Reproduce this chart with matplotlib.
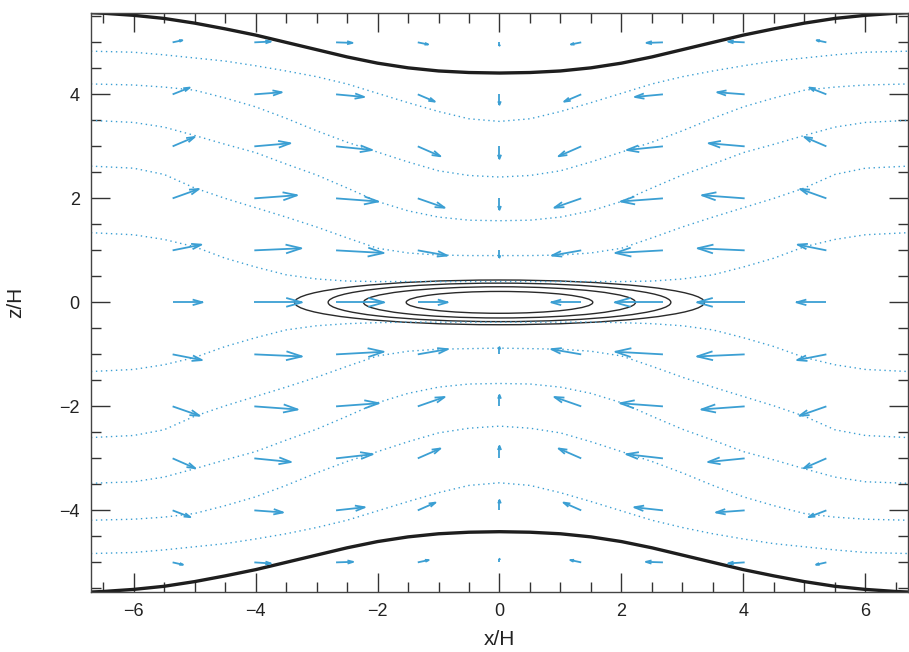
import numpy as np
import matplotlib
matplotlib.use("Agg")
import matplotlib.pyplot as plt
from matplotlib.collections import LineCollection
from matplotlib.patches import Ellipse

plt.rcParams['font.family'] = ['Liberation Sans', 'DejaVu Sans']

blue = '#3b9fd3'

# quiver grid (arrow tails)
x_grid = [-5.36, -4.02, -2.68, -1.34, 0.0, 1.34, 2.68, 4.02, 5.36]
z_grid = [5, 4, 3, 2, 1, 0, -1, -2, -3, -4, -5]

# horizontal velocity, rows follow z_grid (top to bottom)
U = [
    [0.16, 0.27, 0.27, 0.17, 0.0, -0.17, -0.27, -0.27, -0.16],
    [0.28, 0.45, 0.46, 0.28, 0.0, -0.28, -0.46, -0.45, -0.28],
    [0.36, 0.59, 0.59, 0.37, 0.0, -0.37, -0.59, -0.59, -0.36],
    [0.43, 0.70, 0.69, 0.44, 0.0, -0.44, -0.69, -0.70, -0.43],
    [0.47, 0.77, 0.78, 0.48, 0.0, -0.48, -0.78, -0.77, -0.47],
    [0.49, 0.78, 0.79, 0.49, 0.0, -0.49, -0.79, -0.78, -0.49],
    [0.48, 0.78, 0.78, 0.49, 0.0, -0.49, -0.78, -0.78, -0.48],
    [0.44, 0.71, 0.70, 0.44, 0.0, -0.44, -0.70, -0.71, -0.44],
    [0.37, 0.60, 0.60, 0.37, 0.0, -0.37, -0.60, -0.60, -0.37],
    [0.29, 0.47, 0.47, 0.29, 0.0, -0.29, -0.47, -0.47, -0.29],
    [0.17, 0.27, 0.28, 0.18, 0.0, -0.18, -0.28, -0.27, -0.17],
]
# vertical velocity
W = [
    [0.04, 0.015, -0.01, -0.04, -0.065, -0.04, -0.01, 0.015, 0.04],
    [0.13, 0.04, -0.05, -0.14, -0.20, -0.14, -0.05, 0.04, 0.13],
    [0.18, 0.06, -0.07, -0.19, -0.24, -0.19, -0.07, 0.06, 0.18],
    [0.18, 0.06, -0.06, -0.18, -0.22, -0.18, -0.06, 0.06, 0.18],
    [0.11, 0.04, -0.05, -0.10, -0.14, -0.10, -0.05, 0.04, 0.11],
    [0.0, 0.0, 0.0, 0.0, 0.0, 0.0, 0.0, 0.0, 0.0],
    [-0.11, -0.04, 0.05, 0.10, 0.14, 0.10, 0.05, -0.04, -0.11],
    [-0.18, -0.06, 0.06, 0.18, 0.22, 0.18, 0.06, -0.06, -0.18],
    [-0.19, -0.07, 0.08, 0.19, 0.24, 0.19, 0.08, -0.07, -0.19],
    [-0.13, -0.04, 0.06, 0.15, 0.20, 0.15, 0.06, -0.04, -0.13],
    [-0.045, -0.02, 0.01, 0.045, 0.07, 0.045, 0.01, -0.02, -0.045],
]

# dotted flow lines
x_line = [-6.7, -6.0, -5.5, -5.0, -4.5, -4.0, -3.5, -3.0, -2.5, -2.0, -1.5, -1.0, -0.5, 0.0,
          0.5, 1.0, 1.5, 2.0, 2.5, 3.0, 3.5, 4.0, 4.5, 5.0, 5.5, 6.0, 6.7]
line_1 = [4.83, 4.81, 4.76, 4.70, 4.64, 4.55, 4.45, 4.34, 4.20, 4.02, 3.84, 3.67, 3.53, 3.48,
          3.53, 3.67, 3.84, 4.02, 4.20, 4.34, 4.45, 4.55, 4.64, 4.70, 4.76, 4.81, 4.83]
line_2 = [4.20, 4.18, 4.14, 4.08, 3.93, 3.76, 3.54, 3.30, 3.08, 2.89, 2.70, 2.53, 2.44, 2.41,
          2.44, 2.53, 2.70, 2.89, 3.08, 3.30, 3.54, 3.76, 3.93, 4.08, 4.14, 4.18, 4.20]
line_3 = [3.50, 3.46, 3.37, 3.21, 3.04, 2.88, 2.66, 2.45, 2.20, 1.94, 1.76, 1.64, 1.58, 1.57,
          1.58, 1.64, 1.76, 1.94, 2.20, 2.45, 2.66, 2.88, 3.04, 3.21, 3.37, 3.46, 3.50]
line_4 = [2.62, 2.58, 2.46, 2.20, 2.00, 1.82, 1.64, 1.45, 1.24, 1.04, 0.95, 0.91, 0.90, 0.90,
          0.90, 0.91, 0.95, 1.04, 1.24, 1.45, 1.64, 1.82, 2.00, 2.20, 2.46, 2.58, 2.62]
line_5 = [1.34, 1.30, 1.21, 1.07, 0.85, 0.68, 0.53, 0.45, 0.41, 0.40, 0.40, 0.40, 0.40, 0.40,
          0.40, 0.40, 0.40, 0.40, 0.41, 0.45, 0.53, 0.68, 0.85, 1.07, 1.21, 1.30, 1.34]
line_6 = [-1.33, -1.29, -1.20, -1.06, -0.85, -0.68, -0.53, -0.45, -0.41, -0.39, -0.38, -0.38, -0.38, -0.38,
          -0.38, -0.38, -0.38, -0.39, -0.41, -0.45, -0.53, -0.68, -0.85, -1.06, -1.20, -1.29, -1.33]
line_7 = [-2.60, -2.56, -2.45, -2.19, -1.99, -1.81, -1.63, -1.44, -1.23, -1.03, -0.94, -0.90, -0.89, -0.88,
          -0.89, -0.90, -0.94, -1.03, -1.23, -1.44, -1.63, -1.81, -1.99, -2.19, -2.45, -2.56, -2.60]
line_8 = [-3.48, -3.45, -3.36, -3.20, -3.03, -2.87, -2.65, -2.44, -2.19, -1.93, -1.75, -1.63, -1.57, -1.56,
          -1.57, -1.63, -1.75, -1.93, -2.19, -2.44, -2.65, -2.87, -3.03, -3.20, -3.36, -3.45, -3.48]
line_9 = [-4.19, -4.17, -4.13, -4.06, -3.91, -3.74, -3.52, -3.28, -3.06, -2.87, -2.68, -2.51, -2.42, -2.38,
          -2.42, -2.51, -2.68, -2.87, -3.06, -3.28, -3.52, -3.74, -3.91, -4.06, -4.13, -4.17, -4.19]
line_10 = [-4.83, -4.81, -4.76, -4.70, -4.64, -4.55, -4.45, -4.33, -4.19, -4.01, -3.83, -3.66, -3.52, -3.47,
           -3.52, -3.66, -3.83, -4.01, -4.19, -4.33, -4.45, -4.55, -4.64, -4.70, -4.76, -4.81, -4.83]
flow_lines = [line_1, line_2, line_3, line_4, line_5, line_6, line_7, line_8, line_9, line_10]

# upper / lower boundary
x_wall = [-6.7, -6.5, -6.0, -5.5, -5.0, -4.5, -4.0, -3.5, -3.0, -2.5, -2.0, -1.5, -1.0, -0.5, 0.0,
          0.5, 1.0, 1.5, 2.0, 2.5, 3.0, 3.5, 4.0, 4.5, 5.0, 5.5, 6.0, 6.5, 6.7]
z_wall = [5.57, 5.56, 5.52, 5.46, 5.37, 5.26, 5.14, 5.00, 4.86, 4.72, 4.60, 4.51, 4.45, 4.42, 4.41,
          4.42, 4.45, 4.51, 4.60, 4.72, 4.86, 5.00, 5.14, 5.26, 5.37, 5.46, 5.52, 5.56, 5.57]

# central contours (semi-axes)
ell_a = [3.36, 2.81, 2.23, 1.53]
ell_b = [0.43, 0.37, 0.30, 0.21]

fig = plt.figure(figsize=(9.09, 6.52), dpi=100)
ax = fig.add_axes([0.100, 0.092, 0.899, 0.8885])

for zl in flow_lines:
    ax.plot(x_line, zl, color=blue, lw=1.0, linestyle=(0, (1, 2.6)))

ax.plot(x_wall, z_wall, color='#1e1e1e', lw=2.4, solid_capstyle='butt')
ax.plot(x_wall, [-z for z in z_wall], color='#1e1e1e', lw=2.4, solid_capstyle='butt')

for a, b in zip(ell_a, ell_b):
    ax.add_patch(Ellipse((0, 0), 2 * a, 2 * b, fill=False, ec='#2a2a2a', lw=1.0))

# arrows drawn like matlab quiver (open heads)
X, Z = np.meshgrid(x_grid, z_grid)
Uq = np.array(U)
Wq = np.array(W)
alpha, beta = 0.33, 0.33
segs = []
for x0, z0, u, w in zip(X.ravel(), Z.ravel(), Uq.ravel(), Wq.ravel()):
    if u == 0 and w == 0:
        continue
    tx, tz = x0 + u, z0 + w
    segs.append([(x0, z0), (tx, tz)])
    segs.append([(tx - alpha * (u + beta * w), tz - alpha * (w - beta * u)), (tx, tz),
                 (tx - alpha * (u - beta * w), tz - alpha * (w + beta * u))])
ax.add_collection(LineCollection(segs, colors=blue, linewidths=1.3))

ax.set_xlim(-6.7, 6.7)
ax.set_ylim(-5.57, 5.57)
ax.set_xticks([-6, -4, -2, 0, 2, 4, 6])
ax.set_yticks([-4, -2, 0, 2, 4])
ax.set_xticks(np.arange(-6.5, 6.6, 0.5), minor=True)
ax.set_yticks(np.arange(-5.5, 5.6, 0.5), minor=True)
ax.tick_params(which='both', direction='in', top=True, right=True, color='#333333', width=1.0,
               labelsize=13, pad=8, labelcolor='#222222')
ax.tick_params(which='major', length=14)
ax.tick_params(which='minor', length=7.5)
for s in ax.spines.values():
    s.set_color('#444444')
    s.set_linewidth(1.0)

ax.set_xlabel('x/H', fontsize=15, color='#222222')
ax.set_ylabel('z/H', fontsize=15, color='#222222')
ax.xaxis.set_label_coords(0.5, -0.066)
ax.yaxis.set_label_coords(-0.081, 0.5)

fig.savefig('out.png', dpi=100, facecolor='white')
